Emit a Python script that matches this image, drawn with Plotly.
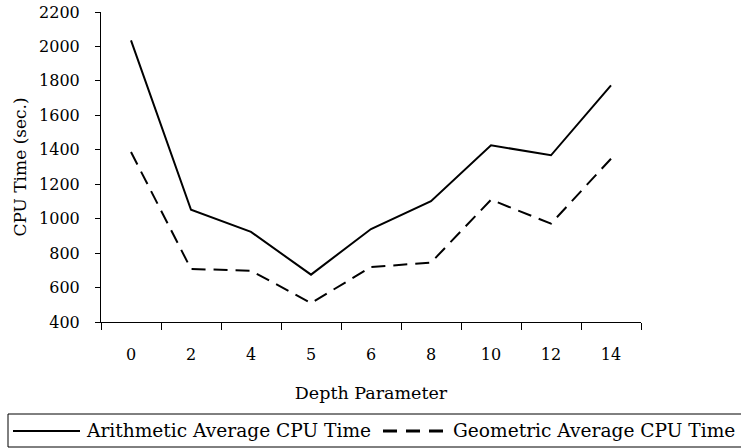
import plotly.graph_objects as go

depth = ["0", "2", "4", "5", "6", "8", "10", "12", "14"]
arith = [2035, 1052, 923, 675, 940, 1101, 1426, 1368, 1774]
geom = [1387, 708, 698, 510, 719, 745, 1110, 971, 1348]
yticks = [400, 600, 800, 1000, 1200, 1400, 1600, 1800, 2000, 2200]
series_names = ["Arithmetic Average CPU Time", "Geometric Average CPU Time"]

FONT = "DejaVu Serif"
W, H = 741, 448
L, R, T, B = 101, 100, 12, 126
pw, ph = W - L - R, H - T - B


def px(x):
    return (x - L) / pw


def py(y):
    return (T + ph - y) / ph


fig = go.Figure()
fig.add_trace(go.Scatter(x=depth, y=arith, mode="lines", name=series_names[0],
                         line=dict(color="black", width=2)))
fig.add_trace(go.Scatter(x=depth, y=geom, mode="lines", name=series_names[1],
                         line=dict(color="black", width=2, dash="14px,8px")))

# legend drawn by hand (box runs past the right edge, as in the reference)
fig.add_shape(type="rect", xref="paper", yref="paper",
              x0=px(8), x1=px(760), y0=py(414), y1=py(447),
              line=dict(color="black", width=1), fillcolor="rgba(0,0,0,0)")
fig.add_shape(type="line", xref="paper", yref="paper",
              x0=px(13), x1=px(80), y0=py(431), y1=py(431),
              line=dict(color="black", width=2))
fig.add_shape(type="line", xref="paper", yref="paper",
              x0=px(383), x1=px(443), y0=py(431), y1=py(431),
              line=dict(color="black", width=3, dash="14px,9px"))
fig.add_annotation(xref="paper", yref="paper", x=px(84), y=py(430),
                   xanchor="left", yanchor="middle", showarrow=False,
                   text=series_names[0], font=dict(family=FONT, size=18.6, color="black"))
fig.add_annotation(xref="paper", yref="paper", x=px(451), y=py(430),
                   xanchor="left", yanchor="middle", showarrow=False,
                   text=series_names[1], font=dict(family=FONT, size=18.6, color="black"))

fig.update_layout(
    width=W, height=H,
    margin=dict(l=L, r=R, t=T, b=B, autoexpand=False),
    paper_bgcolor="white", plot_bgcolor="white",
    font=dict(family=FONT, size=16, color="black"),
    showlegend=False,
)
fig.update_xaxes(
    type="category", range=[-0.5, 8.5],
    showline=True, linecolor="black", linewidth=1,
    ticks="outside", tickson="boundaries", ticklen=7, tickcolor="black", tickwidth=1,
    ticklabelstandoff=18, showgrid=False, zeroline=False,
    title=dict(text="Depth Parameter", standoff=23, font=dict(size=17.5)),
)
fig.update_yaxes(
    range=[400, 2200], tickvals=yticks,
    showline=True, linecolor="black", linewidth=1,
    ticks="outside", ticklen=5, tickcolor="black", tickwidth=1,
    ticklabelstandoff=12, showgrid=False, zeroline=False,
    title=dict(text="CPU Time (sec.)", standoff=8, font=dict(size=17)),
)

fig.write_html("out.html", config={"displayModeBar": False},
               post_script="document.body.style.margin='0';document.body.style.padding='0';")
